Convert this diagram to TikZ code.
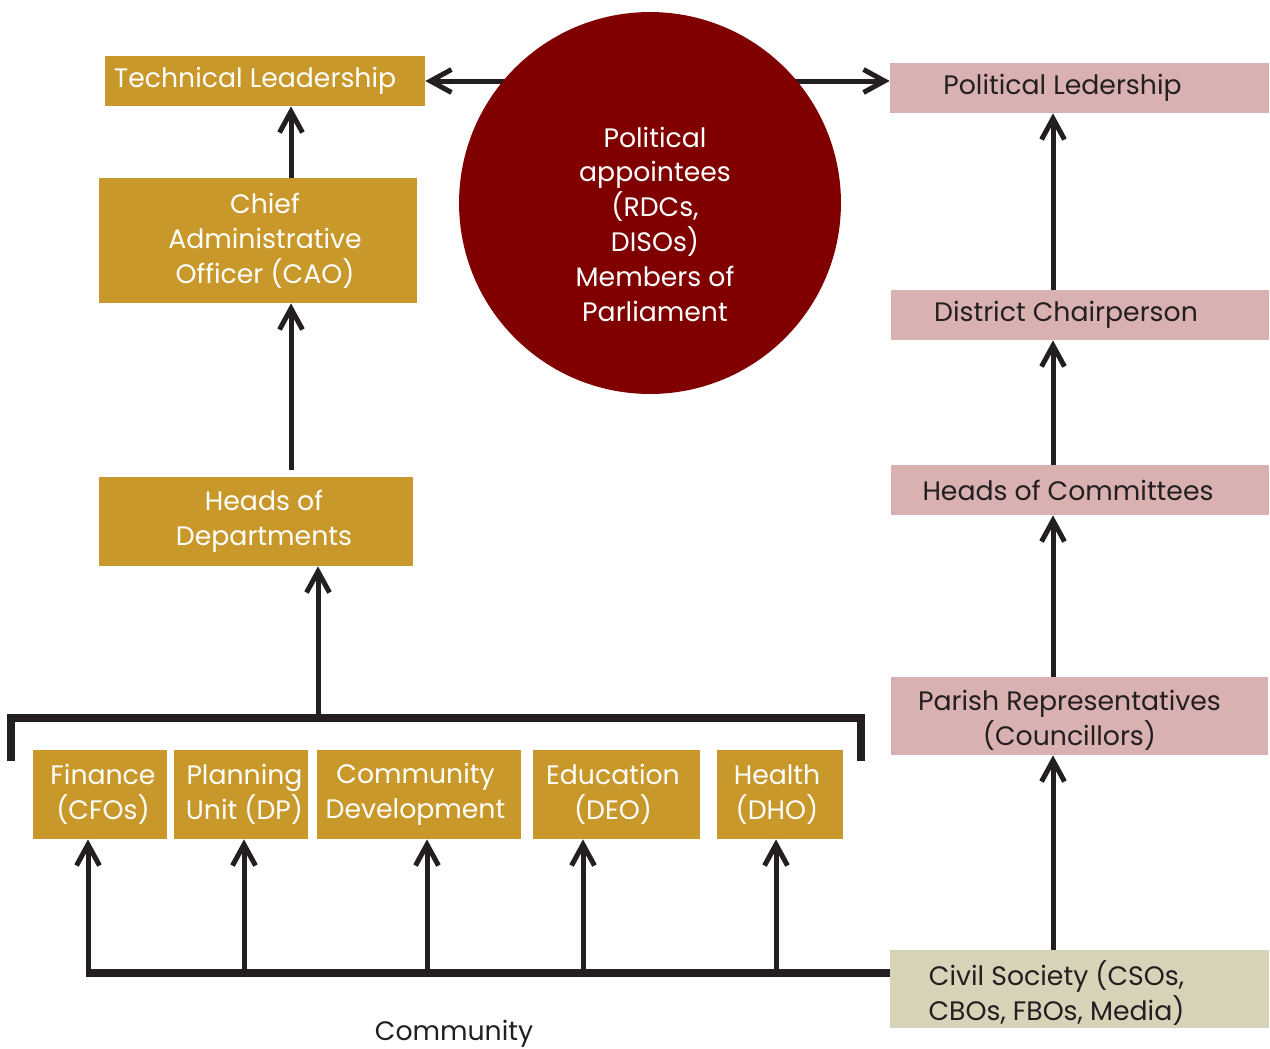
\documentclass[tikz,border=0pt]{standalone}
\usepackage{fontspec}
\setmainfont{Poppins}
\usetikzlibrary{arrows.meta,backgrounds}
\definecolor{gold}{HTML}{C9982B}
\definecolor{pinkb}{HTML}{D9B1B1}
\definecolor{beige}{HTML}{D6D3B8}
\definecolor{maroon}{HTML}{800000}
\definecolor{ink}{HTML}{231F20}
\tikzset{
  box/.style={draw=none, inner sep=0pt},
  goldbox/.style={box, fill=gold},
  pinkbox/.style={box, fill=pinkb},
  beigebox/.style={box, fill=beige},
  txt/.style={inner sep=0pt, align=center, font=\fontsize{15.2}{19.8}\selectfont},
  wtxt/.style={txt, text=white},
  dtxt/.style={txt, text=ink},
  arr/.style={draw=ink, line width=0.1cm, -{Straight Barb[length=0.42cm,width=0.46cm]}},
  thick line/.style={draw=ink, line width=0.15cm},
}
\begin{document}
\begin{tikzpicture}[x=0.02cm,y=-0.02cm]
\useasboundingbox (0,0) rectangle (1270,1048);
% left column
\node[goldbox, minimum width=6.4cm, minimum height=1.0cm,
  label={[wtxt, name=tech-t, xshift=-0.2cm]center:Technical Leadership}] (tech) at (265,81) {};
\node[goldbox, minimum width=6.36cm, minimum height=2.5cm,
  label={[wtxt, name=cao-t, xshift=0.14cm]center:{Chief\\Administrative\\Officer (CAO)}}] (cao) at (258,240.5) {};
\node[goldbox, minimum width=6.28cm, minimum height=1.78cm,
  label={[wtxt, name=hod-t, xshift=0.16cm]center:{Heads of\\Departments}}] (hod) at (256,521.5) {};
% departments
\node[goldbox, minimum width=2.68cm, minimum height=1.78cm,
  label={[wtxt, name=fin-t, xshift=0.06cm]center:{Finance\\(CFOs)}}] (fin) at (100,794.5) {};
\node[goldbox, minimum width=2.68cm, minimum height=1.78cm,
  label={[wtxt, name=plan-t, xshift=0.07cm]center:{Planning\\Unit (DP)}}] (plan) at (241,794.5) {};
\node[goldbox, minimum width=4.08cm, minimum height=1.78cm,
  label={[wtxt, name=comm-t, xshift=-0.07cm]center:{Community\\Development}}] (comm) at (419,794.5) {};
\node[goldbox, minimum width=3.34cm, minimum height=1.78cm,
  label={[wtxt, name=edu-t, xshift=-0.07cm]center:{Education\\(DEO)}}] (edu) at (616.5,794.5) {};
\node[goldbox, minimum width=2.52cm, minimum height=1.78cm,
  label={[wtxt, name=health-t, xshift=-0.06cm]center:{Health\\(DHO)}}] (health) at (780,794.5) {};
% circle
\node[circle, fill=maroon, minimum size=7.64cm, inner sep=0pt,
  label={[wtxt, name=circ-t, xshift=0.1cm, yshift=-0.42cm]center:{Political\\appointees\\(RDCs,\\DISOs)\\Members of\\Parliament}}] (circ) at (650,203) {};
% right column
\node[pinkbox, minimum width=7.58cm, minimum height=1.0cm,
  label={[dtxt, name=pol-t, xshift=-0.34cm]center:Political Ledership}] (pol) at (1079.5,88) {};
\node[pinkbox, minimum width=7.56cm, minimum height=1.0cm,
  label={[dtxt, name=dist-t, xshift=-0.28cm]center:District Chairperson}] (dist) at (1080,315) {};
\node[pinkbox, minimum width=7.56cm, minimum height=1.0cm,
  label={[dtxt, name=hoc-t, xshift=-0.24cm]center:Heads of Committees}] (hoc) at (1080,490) {};
\node[pinkbox, minimum width=7.54cm, minimum height=1.56cm,
  label={[dtxt, name=par-t, xshift=-0.2cm, yshift=-0.08cm]center:{Parish Representatives\\(Councillors)}}] (par) at (1079.5,716) {};
\node[beigebox, minimum width=7.58cm, minimum height=1.56cm,
  label={[dtxt, name=civ-t, xshift=-0.46cm, yshift=-0.08cm]center:{Civil Society (CSOs,\\CBOs, FBOs, Media)}}] (civ) at (1079.5,989) {};
\node[dtxt, anchor=base] (commlbl) at (454,1040) {Community};
% helper coordinates
\coordinate (lx) at (291,0);
\coordinate (rx) at (1053,0);
\coordinate (brk) at (318,718);
\coordinate (bl) at (88,973);
\coordinate (br) at (890,973);
\coordinate (a1) at (88,973);
\coordinate (a2) at (244,973);
\coordinate (a3) at (427,973);
\coordinate (a4) at (583,973);
\coordinate (a5) at (776,973);
\coordinate (bkl) at (11,761);
\coordinate (bkr) at (861,761);
% connectors
\begin{scope}[on background layer]
\draw[arr] (circ.center |- tech.east) -- (tech.east);
\draw[arr] (circ.center |- tech.east) -- (pol.west |- tech.east);
\end{scope}
\draw[arr] (lx |- cao.north) -- (lx |- tech.south);
\draw[arr] ([yshift=0.14cm]lx |- hod.north) -- (lx |- cao.south);
\draw[arr] (brk) -- (brk |- hod.south);
\draw[thick line] (bkl) -- (bkl |- brk) -- (bkr |- brk) -- (bkr);
\draw[thick line] (br) -- ([xshift=-0.05cm]bl);
\draw[arr] (a1) -- (a1 |- fin.south);
\draw[arr] (a2) -- (a2 |- plan.south);
\draw[arr] (a3) -- (a3 |- comm.south);
\draw[arr] (a4) -- (a4 |- edu.south);
\draw[arr] (a5) -- (a5 |- health.south);
\draw[arr] (rx |- civ.north) -- (rx |- par.south);
\draw[arr] (rx |- par.north) -- (rx |- hoc.south);
\draw[arr] (rx |- hoc.north) -- (rx |- dist.south);
\draw[arr] (rx |- dist.north) -- (rx |- pol.south);
\end{tikzpicture}
\end{document}
